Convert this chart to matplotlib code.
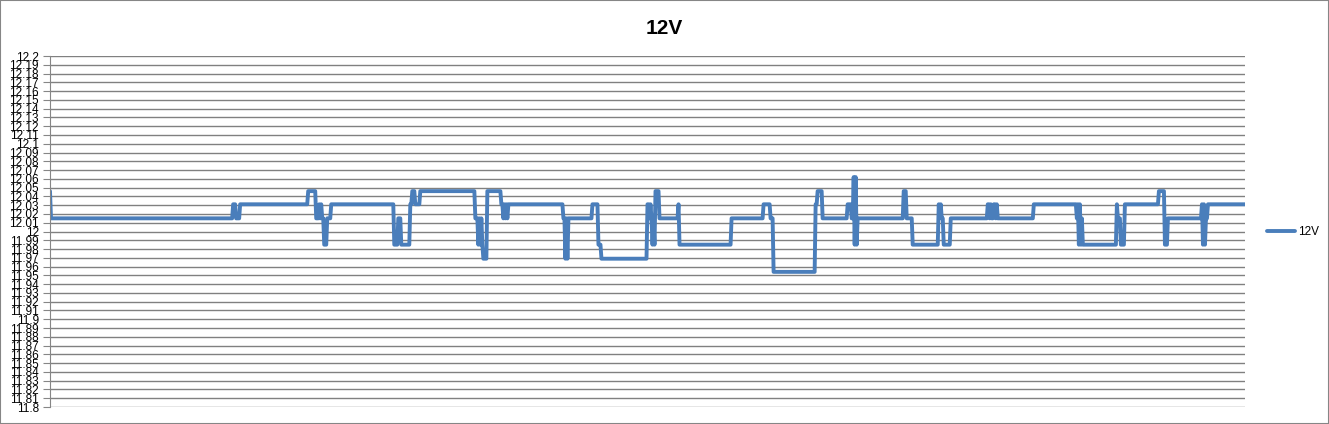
import numpy as np
import matplotlib
matplotlib.use("Agg")
import matplotlib.pyplot as plt
from matplotlib.patches import Rectangle

# readings of the 12V rail, run-length encoded (value, number of samples)
levels = [12.046, 12.015, 12.031, 12.015, 12.031, 12.046, 12.015, 12.031, 12.015, 12.031,
          12.015, 11.985, 12.015, 12.031, 11.985, 12.015, 11.985, 12.031, 12.046, 12.031,
          12.046, 12.015, 11.985, 12.015, 11.985, 12.015, 11.985, 11.969, 12.046, 12.031,
          12.015, 12.031, 12.015, 12.031, 12.015, 12.031, 12.015, 11.969, 12.015, 11.969,
          12.015, 12.031, 11.985, 11.969, 12.031, 12.015, 12.031, 12.015, 11.985, 12.015,
          11.985, 12.046, 12.015, 12.031, 11.985, 12.015, 12.031, 12.015, 11.954, 12.031,
          12.046, 12.015, 12.031, 12.015, 12.062, 11.985, 12.062, 11.985, 12.015, 12.046,
          12.015, 11.985, 12.031, 12.015, 12.031, 12.015, 11.985, 12.015, 12.031, 12.015,
          12.031, 12.015, 12.031, 12.015, 12.031, 12.015, 12.031, 12.015, 12.031, 11.985,
          12.031, 11.985, 12.015, 11.985, 12.031, 12.015, 11.985, 12.031, 12.046, 11.985,
          12.015, 12.031, 11.985, 12.031, 11.985, 12.015, 12.031]
run_len = [1, 182, 3, 4, 68, 8, 3, 1, 1, 1,
           2, 3, 4, 63, 4, 3, 9, 2, 3, 5,
           55, 3, 1, 1, 1, 1, 1, 4, 14, 2,
           1, 1, 1, 1, 1, 55, 2, 1, 1, 1,
           24, 6, 3, 46, 2, 1, 1, 1, 1, 1,
           1, 4, 19, 1, 52, 32, 7, 3, 42, 2,
           5, 25, 4, 2, 1, 1, 1, 1, 46, 3,
           6, 26, 1, 1, 1, 2, 7, 37, 2, 1,
           1, 2, 2, 1, 1, 36, 43, 1, 1, 1,
           1, 1, 1, 34, 1, 3, 4, 34, 6, 3,
           34, 1, 1, 1, 1, 2, 38]

y_ticks = np.round(np.arange(11.80, 12.2001, 0.01), 2)
y_labels = [f"{v:.2f}".rstrip("0").rstrip(".") for v in y_ticks]

values = np.repeat(levels, run_len)
x = np.arange(len(values))

W, H = 1329, 424
fig = plt.figure(figsize=(W / 100, H / 100), dpi=100)
fig.patches.append(Rectangle((0, 0), 1, 1, transform=fig.transFigure,
                             fill=False, edgecolor="#868686", linewidth=1.5))

ax = fig.add_axes([50 / W, 1 - 407 / H, (1245 - 50) / W, (407 - 56) / H])
ax.plot(x, values, color="#4A7EBB", linewidth=2.8, solid_joinstyle="round",
        solid_capstyle="round", label="12V")

ax.set_xlim(0, len(values) - 1)
ax.set_ylim(11.8, 12.2)
ax.set_yticks(y_ticks)
ax.set_yticklabels(y_labels, fontsize=8.5, family="Liberation Sans")
ax.set_xticks([])
ax.grid(axis="y", color="#808080", linewidth=1)
ax.set_axisbelow(True)
for s in ["top", "right", "bottom"]:
    ax.spines[s].set_visible(False)
ax.spines["left"].set_color("#868686")
ax.tick_params(axis="y", length=5, color="#868686", pad=3)

fig.text(664 / W, 1 - 28 / H, "12V", ha="center", va="center",
         fontsize=15, fontweight="bold", family="Liberation Sans")

fig.legend(loc="center left", bbox_to_anchor=(1256 / W, 1 - 232 / H), frameon=False,
           handlelength=2.4, handletextpad=0.3,
           prop={"family": "Liberation Sans", "size": 8.5})

fig.savefig("out.png", dpi=100)
